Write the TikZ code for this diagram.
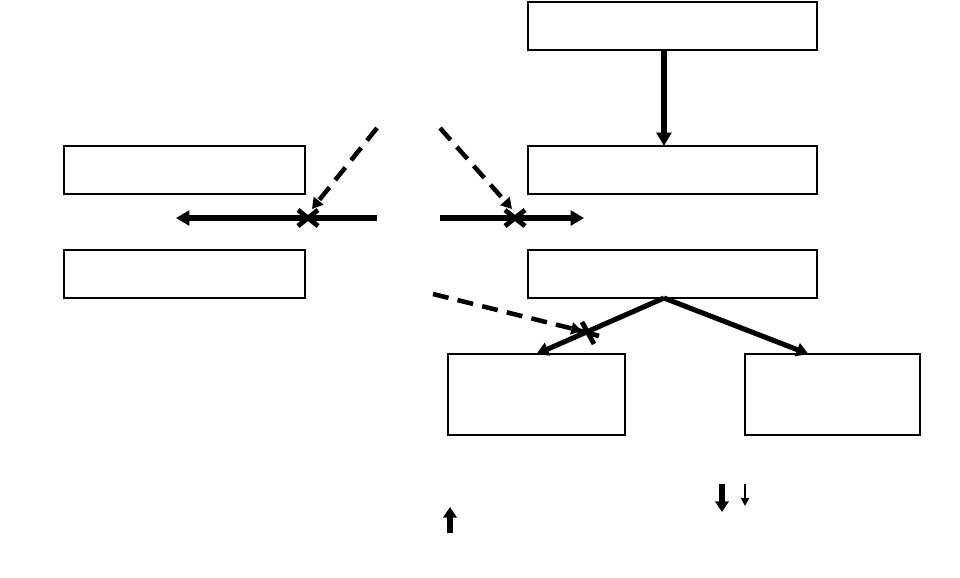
\documentclass[tikz,border=0pt]{standalone}
\usepackage{tikz}
\usetikzlibrary{arrows.meta, calc}
\tikzset{box/.style = {draw, line width = 2.2pt, rectangle, inner sep = 0pt, outer sep = 0pt}}
\tikzset{flow/.style = {line width = 5pt, -{Triangle[length = 10pt, width = 11pt]}}}
\tikzset{branch/.style = {line width = 3.8pt, -{Triangle[length = 9pt, width = 10pt]}}}
\tikzset{hint/.style = {line width = 3.4pt, dash pattern = on 12pt off 7pt, -{Triangle[length = 8pt, width = 9pt]}}}
\tikzset{block/.style = {line width = 3.6pt}}

\begin{document}
\begin{tikzpicture}[x = 0.75pt, y = -0.75pt]
\useasboundingbox (0,0) rectangle (960,578);
\node[box, minimum width = 216.75pt, minimum height = 36pt] (top) at (672.5,26) {};
\node[box, minimum width = 216.75pt, minimum height = 36pt] (mid) at (672.5,170) {};
\node[box, minimum width = 216.75pt, minimum height = 36pt] (low) at (672.5,274) {};
\node[box, minimum width = 180.75pt, minimum height = 36pt] (left1) at (184.5,170) {};
\node[box, minimum width = 180.75pt, minimum height = 36pt] (left2) at (184.5,274) {};
\node[box, minimum width = 132.75pt, minimum height = 60.75pt] (outa) at (536.5,394.5) {};
\node[box, minimum width = 131.25pt, minimum height = 60.75pt] (outb) at (832.5,394.5) {};
\coordinate (lstart) at (377,218);
\coordinate (lend) at (176,218);
\coordinate (lx) at (308,218);
\coordinate (ldash) at (377,128);
\coordinate (rstart) at (440,218);
\coordinate (rend) at (584,218);
\coordinate (rx) at (515,218);
\coordinate (rdash) at (440,128);
\coordinate (bx) at (588,333);
\coordinate (bdash) at (433,294);
\draw[flow] ([xshift = -6.4pt]top.south) -- ([xshift = -6.4pt]mid.north);
\draw[flow] (lstart) -- (lend);
\draw[flow] (rstart) -- (rend);
\draw[branch] ([xshift = -6.4pt]low.south) -- (outa.north);
\draw[branch] ([xshift = -6.4pt]low.south) -- ([xshift = -18pt]outb.north);
\draw[hint] (ldash) -- ($(lx)+(4,-9)$);
\draw[hint] (rdash) -- ($(rx)+(-3,-9)$);
\draw[hint] (bdash) -- ($(bx)+(-6,-2)$);
% crosses on the blocked paths
\foreach \c in {lx, rx} {
  \draw[block] ($(\c)+(-10,-8)$) -- ($(\c)+(10,8)$);
  \draw[block] ($(\c)+(-10,8)$) -- ($(\c)+(10,-8)$);
}
\draw[block] ($(bx)+(-6,-11)$) -- ($(bx)+(6,11)$);
\draw[block] ($(bx)+(-11,-3)$) -- ($(bx)+(11,3)$);
% small arrows
\coordinate (up0) at (450,533);
\coordinate (up1) at (450,507);
\coordinate (dna0) at (722,484);
\coordinate (dna1) at (722,512);
\coordinate (dnb0) at (745,484);
\coordinate (dnb1) at (745,506);
\draw[line width = 4pt, -{Triangle[length = 8pt, width = 10pt]}] (up0) -- (up1);
\draw[line width = 4pt, -{Triangle[length = 8pt, width = 10pt]}] (dna0) -- (dna1);
\draw[line width = 1.8pt, -{Triangle[length = 6pt, width = 6pt]}] (dnb0) -- (dnb1);
\end{tikzpicture}
\end{document}
